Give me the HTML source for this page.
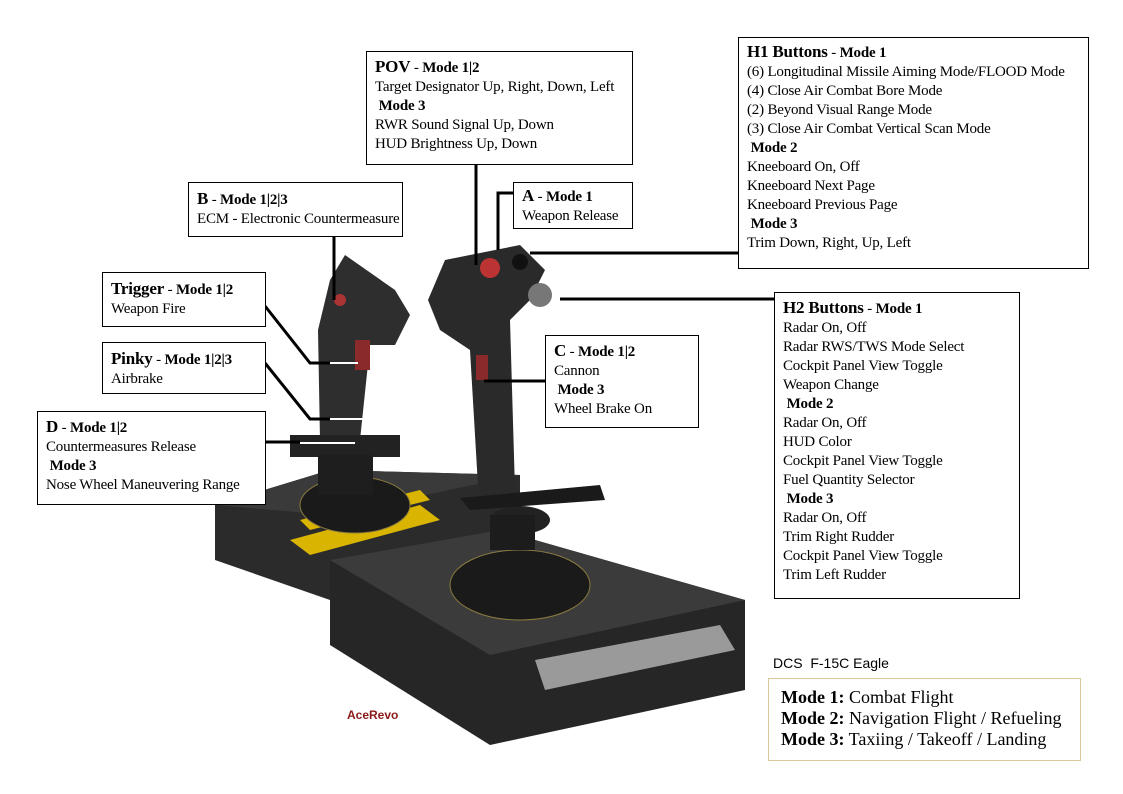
<!DOCTYPE html>
<html><head><meta charset="utf-8"><style>
html,body{margin:0;padding:0;background:#fff;}
#c{position:relative;width:1123px;height:794px;overflow:hidden;background:#fff;font-family:"Liberation Serif",serif;color:#000;}
.b{position:absolute;border:1px solid #000;background:#fff;font-size:15px;line-height:19px;padding:4px 8px;box-sizing:border-box;white-space:nowrap;letter-spacing:-0.2px;}
.t{font-weight:bold;font-size:17px;}
.m{font-weight:bold;font-size:15px;}
svg{position:absolute;left:0;top:0;}
</style></head><body><div id="c">
<svg width="1123" height="794">
<polygon points="215,505 330,470 520,475 520,560 330,600 215,560" fill="#2b2b2b"/>
<polygon points="215,505 330,470 520,475 330,515" fill="#3a3a3a"/>
<polygon points="330,560 500,530 745,600 745,690 490,745 330,645" fill="#262626"/>
<polygon points="330,560 500,530 745,600 490,655" fill="#3b3b3b"/>
<polygon points="290,540 420,505 440,520 310,555" fill="#d9b400"/>
<polygon points="300,520 420,490 430,500 310,530" fill="#d9b400"/>
<polygon points="535,660 720,625 735,650 545,690" fill="#9a9a9a"/>
<ellipse cx="520" cy="585" rx="70" ry="35" fill="#1a1a1a" stroke="#8a7a40"/>
<ellipse cx="355" cy="505" rx="55" ry="28" fill="#1a1a1a" stroke="#8a7a40"/>
<path d="M330,280 L345,255 L395,290 L410,315 L395,345 L370,345 L360,440 L320,440 L318,330 Z" fill="#2e2e2e"/>
<rect x="290" y="435" width="110" height="22" fill="#222"/>
<rect x="318" y="455" width="55" height="40" fill="#1e1e1e"/>
<rect x="355" y="340" width="15" height="30" fill="#8b2a2a"/>
<circle cx="340" cy="300" r="6" fill="#a33"/>
<path d="M428,300 L445,260 L520,245 L545,270 L530,300 L510,320 L515,490 L530,500 L480,520 L470,350 L440,330 Z" fill="#2a2a2a"/>
<ellipse cx="520" cy="520" rx="30" ry="14" fill="#222"/>
<rect x="490" y="515" width="45" height="35" fill="#1c1c1c"/>
<path d="M460,498 L600,485 L605,500 L470,510 Z" fill="#1a1a1a"/>
<circle cx="490" cy="268" r="10" fill="#b33"/>
<circle cx="540" cy="295" r="12" fill="#777"/>
<circle cx="520" cy="262" r="8" fill="#111"/>
<rect x="476" y="355" width="12" height="25" fill="#8b2a2a"/>
<g stroke="#000" stroke-width="3" fill="none">
<line x1="476" y1="164" x2="476" y2="265"/>
<polyline points="513,193 498,193 498,250"/>
<line x1="738" y1="253" x2="530" y2="253"/>
<line x1="774" y1="299" x2="560" y2="299"/>
<line x1="545" y1="381" x2="484" y2="381"/>
<line x1="334" y1="236" x2="334" y2="300"/>
<polyline points="265,306 310,363 330,363"/>
<polyline points="265,363 310,419 330,419"/>
<line x1="265" y1="442" x2="300" y2="442"/>
</g>
<g stroke="#fff" stroke-width="2"><line x1="330" y1="363" x2="358" y2="363"/><line x1="330" y1="419" x2="390" y2="419"/><line x1="300" y1="443" x2="355" y2="443"/></g>
</svg>

<div class="b" style="left:366px;top:51px;width:267px;height:114px;padding-top:5px;"><span class="t">POV</span> - <span class="m">Mode 1|2</span><br>Target Designator Up, Right, Down, Left<br>&nbsp;<span class="m">Mode 3</span><br>RWR Sound Signal Up, Down<br>HUD Brightness Up, Down</div>

<div class="b" style="left:738px;top:37px;width:351px;height:232px;padding-top:4px;"><span class="t">H1 Buttons</span> - <span class="m">Mode 1</span><br>(6) Longitudinal Missile Aiming Mode/FLOOD Mode<br>(4) Close Air Combat Bore Mode<br>(2) Beyond Visual Range Mode<br>(3) Close Air Combat Vertical Scan Mode<br>&nbsp;<span class="m">Mode 2</span><br>Kneeboard On, Off<br>Kneeboard Next Page<br>Kneeboard Previous Page<br>&nbsp;<span class="m">Mode 3</span><br>Trim Down, Right, Up, Left</div>

<div class="b" style="left:513px;top:182px;width:120px;height:47px;padding-top:3px;"><span class="t">A</span> - <span class="m">Mode 1</span><br>Weapon Release</div>

<div class="b" style="left:188px;top:182px;width:215px;height:55px;padding-top:6px;"><span class="t">B</span> - <span class="m">Mode 1|2|3</span><br>ECM - Electronic Countermeasure</div>

<div class="b" style="left:102px;top:272px;width:164px;height:55px;padding-top:6px;"><span class="t">Trigger</span> - <span class="m">Mode 1|2</span><br>Weapon Fire</div>

<div class="b" style="left:102px;top:342px;width:164px;height:52px;padding-top:6px;"><span class="t">Pinky</span> - <span class="m">Mode 1|2|3</span><br>Airbrake</div>

<div class="b" style="left:37px;top:411px;width:229px;height:94px;padding-top:5px;"><span class="t">D</span> - <span class="m">Mode 1|2</span><br>Countermeasures Release<br>&nbsp;<span class="m">Mode 3</span><br>Nose Wheel Maneuvering Range</div>

<div class="b" style="left:545px;top:335px;width:154px;height:93px;padding-top:5px;"><span class="t">C</span> - <span class="m">Mode 1|2</span><br>Cannon<br>&nbsp;<span class="m">Mode 3</span><br>Wheel Brake On</div>

<div class="b" style="left:774px;top:292px;width:246px;height:307px;padding-top:5px;"><span class="t">H2 Buttons</span> - <span class="m">Mode 1</span><br>Radar On, Off<br>Radar RWS/TWS Mode Select<br>Cockpit Panel View Toggle<br>Weapon Change<br>&nbsp;<span class="m">Mode 2</span><br>Radar On, Off<br>HUD Color<br>Cockpit Panel View Toggle<br>Fuel Quantity Selector<br>&nbsp;<span class="m">Mode 3</span><br>Radar On, Off<br>Trim Right Rudder<br>Cockpit Panel View Toggle<br>Trim Left Rudder</div>

<div style="position:absolute;left:773px;top:655px;font-family:'Liberation Sans',sans-serif;font-size:14px;">DCS&nbsp; F-15C Eagle</div>
<div style="position:absolute;left:768px;top:678px;width:313px;height:83px;border:1px solid #d8c89a;box-sizing:border-box;padding:8px 0 0 12px;font-size:18px;line-height:21px;white-space:nowrap;"><b>Mode 1:</b> Combat Flight<br><b>Mode 2:</b> Navigation Flight / Refueling<br><b>Mode 3:</b> Taxiing / Takeoff / Landing</div>
<div style="position:absolute;left:347px;top:708px;font-family:'Liberation Sans',sans-serif;font-size:12px;font-weight:bold;color:#8b1a1a;">AceRevo</div>
</div></body></html>
